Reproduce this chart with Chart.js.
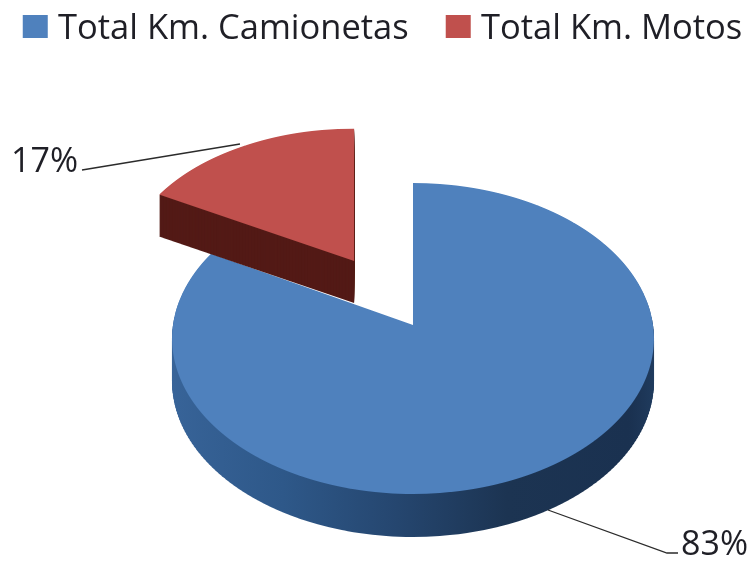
<!DOCTYPE html>
<html lang="en">
  <head>
    <meta charset="UTF-8" />
    <title>Total Km.</title>
    <script src="https://cdn.jsdelivr.net/npm/chart.js"></script>
    <style>
      html, body { margin: 0; padding: 0; background: #fff; }
      canvas { display: block; }
    </style>
  </head>
  <body>
    <canvas id="pie" width="754" height="561"></canvas>

    <script>
      // Data
      const categories = ['Total Km. Camionetas', 'Total Km. Motos']
      const values = [83, 17]

      // Slice styles
      const topColors = ['#4f81bd', '#c0504d']
      const explode = [0, 0.5] // pulled out, as a fraction of the radius
      const depth = [43, 42]
      const blueWallStops = [
        [0, '#386499'], [0.25, '#2e5889'], [0.47, '#25466f'],
        [0.68, '#1c3452'], [0.93, '#1a3150'], [1, '#203c5f']
      ]
      const redWall = '#531a16'

      // Leader lines and where their labels sit
      const leaders = [
        [[548, 510], [667, 553], [678, 553]],
        [[240, 144], [82, 170]]
      ]
      const labelPos = [[681, 555], [11, 172]]

      // Perspective of the pie: screen rows of the tilted disc
      const RADIUS = 240
      const CX = 413
      const CY = 325
      const PERSP_A = 154.3
      const PERSP_B = 0.0868

      function rowToDisc(row) {
        return (row - CY) / (PERSP_A + PERSP_B * (row - CY))
      }
      function discToRow(y) {
        return CY + (PERSP_A * y) / (1 - PERSP_B * y)
      }

      // Draws an arc element row by row through the perspective above
      function drawTilted(ctx, arc, shift, step, pull) {
        const mid = (arc.startAngle + arc.endAngle) / 2
        const apexY = Math.sin(mid) * pull
        const apexX = CX + (Math.cos(mid) * pull * RADIUS) / (1 - PERSP_B * apexY)
        const from = Math.floor(discToRow(-1 - pull)) - 2
        const to = Math.ceil(discToRow(1)) + 2
        for (let row = from; row < to; row += step) {
          const y = rowToDisc(row + step / 2)
          const k = 1 / (1 - PERSP_B * y)
          ctx.save()
          ctx.beginPath()
          ctx.rect(0, row + shift, 754, step)
          ctx.clip()
          const sy = (PERSP_A * k * k) / RADIUS
          ctx.transform(k, 0, 0, sy,
            apexX - arc.x * k,
            row + step / 2 + shift - (arc.y + y * RADIUS) * sy)
          ctx.translate(0, apexY * RADIUS)
          arc.draw(ctx)
          ctx.restore()
        }
      }

      const tiltedPie = {
        id: 'tiltedPie',
        beforeDatasetsDraw(chart) {
          const ctx = chart.ctx
          const arcs = chart.getDatasetMeta(0).data
          arcs.forEach((arc, i) => {
            const own = arc.options
            let wall = redWall
            if (i === 0) {
              wall = ctx.createLinearGradient(arc.x - RADIUS, 0, arc.x + RADIUS, 0)
              blueWallStops.forEach(s => wall.addColorStop(s[0], s[1]))
            }
            arc.options = Object.assign({}, own, { backgroundColor: wall })
            for (let d = depth[i]; d > 0; d--) {
              drawTilted(ctx, arc, d, 3, explode[i])
            }
            arc.options = own
            drawTilted(ctx, arc, 0, 1, explode[i])
          })

          // leader lines and percent labels
          ctx.save()
          ctx.strokeStyle = '#2b2b2b'
          ctx.lineWidth = 1.3
          ctx.fillStyle = '#1f1f26'
          ctx.textBaseline = 'alphabetic'
          ctx.textAlign = 'left'
          ctx.font = '34px "Open Sans"'
          values.forEach((v, i) => {
            ctx.beginPath()
            leaders[i].forEach((p, j) => {
              if (j === 0) ctx.moveTo(p[0], p[1])
              else ctx.lineTo(p[0], p[1])
            })
            ctx.stroke()
            ctx.fillText(v + '%', labelPos[i][0], labelPos[i][1])
          })

          // legend swatches sit closer to their text than the library puts them
          chart.legend.legendHitBoxes.forEach((box, i) => {
            ctx.fillStyle = topColors[i]
            ctx.fillRect(box.left + 7, 15, 25, 23)
          })
          ctx.restore()
          return false
        }
      }

      new Chart(document.getElementById('pie'), {
        type: 'pie',
        data: {
          labels: categories,
          datasets: [
            {
              data: values,
              backgroundColor: topColors,
              borderWidth: 0,
              radius: RADIUS
            }
          ]
        },
        options: {
          responsive: false,
          animation: false,
          // the legend row is wider than the canvas allows once its padding is counted
          layout: { padding: { left: -46, right: -50, top: -18 } },
          plugins: {
            tooltip: { enabled: false },
            legend: {
              position: 'top',
              labels: {
                boxWidth: 25,
                boxHeight: 23,
                padding: 30,
                color: '#1f1f26',
                font: { family: 'Open Sans', size: 34.5 },
                generateLabels: chart =>
                  Chart.overrides.pie.plugins.legend.labels
                    .generateLabels(chart)
                    .map(item => ({ ...item, fillStyle: 'transparent', strokeStyle: 'transparent' }))
              }
            }
          }
        },
        plugins: [tiltedPie]
      })
    </script>
  </body>
</html>
